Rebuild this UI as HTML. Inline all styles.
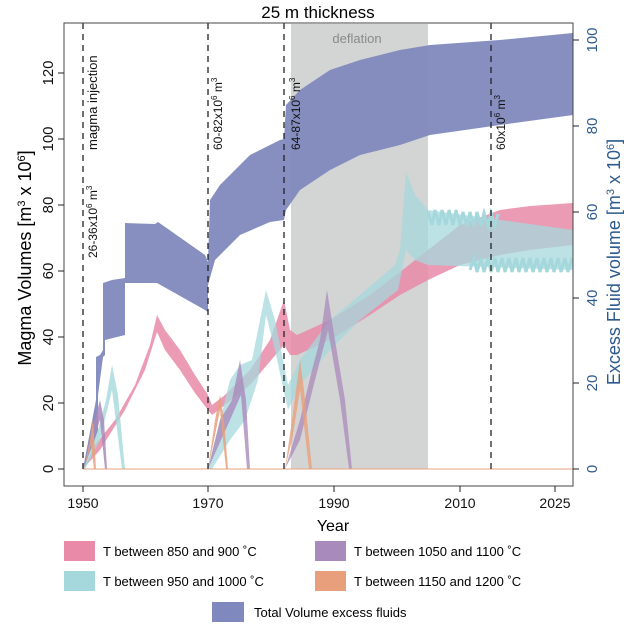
<!DOCTYPE html>
<html><head><meta charset="utf-8"><style>
body{margin:0;background:#fff;}
svg{display:block;font-family:"Liberation Sans",sans-serif;}
</style></head><body>
<svg width="638" height="629" viewBox="0 0 638 629" xmlns="http://www.w3.org/2000/svg">
<text x="318" y="18" font-size="17" text-anchor="middle">25 m thickness</text>
<rect x="291" y="24" width="137" height="445" fill="#d3d4d4"/>
<text x="357" y="43" font-size="13" fill="#8a8a8a" text-anchor="middle">deflation</text>
<polygon fill="#7f89bd" fill-opacity="0.95" points="83,469 96,400 96,357 100,355 103,350 103,283 112,280 125,278 125,223 155,224 158,222 205,255 208,262 210,200 220,185 250,155 280,140 284,139 286,105 300,90 330,70 360,60 400,50 430,45 500,40 573,33 573,115 500,125 430,135 400,145 360,155 330,170 300,190 286,210 284,220 270,222 240,235 215,260 208,285 208,312 205,310 157,283 125,283 125,335 105,340 105,355 103,357 98,395 98,430 95,440"/>
<polygon fill="#e98aa8" fill-opacity="0.85" points="83,469 95,445 115,420 135,385 150,345 157,315 165,330 180,350 195,375 208,395 212,405 225,395 250,370 270,340 284,300 290,330 297,335 330,320 370,295 400,272 428,250 460,225 500,210 530,206 573,203 573,245 530,250 500,255 460,265 428,280 400,295 370,315 330,340 297,355 290,355 284,345 250,385 225,405 212,415 208,410 195,393 180,370 165,350 157,332 145,370 125,410 100,450 83,469"/>
<polygon fill="#a5d8dc" fill-opacity="0.8" points="83,469 98,430 106,400 112,365 118,395 125,469 122,469 112,390 100,440 85,469"/>
<polygon fill="#a5d8dc" fill-opacity="0.75" points="208,469 230,380 240,365 252,360 266,290 275,320 288,385 300,360 330,320 360,295 395,265 400,250 406,172 415,195 428,210 573,230 573,270 428,265 415,260 406,250 398,290 360,320 330,350 300,385 288,410 275,350 266,315 258,380 245,420 230,440 212,469"/>
<polyline fill="none" stroke="#a5d8dc" stroke-width="3" points="428,212 432,225 435,210 439,225 442,210 446,225 449,210 453,225 456,210 460,225 463,212 467,226 470,212 474,226 477,212 481,226 484,213 488,226 491,213 495,226 498,214"/>
<polyline fill="none" stroke="#a5d8dc" stroke-width="3" points="470,270 474,258 477,272 481,258 484,272 488,258 491,272 495,258 498,272 502,258 505,272 509,258 512,272 516,258 519,272 523,258 526,272 530,258 533,272 537,258 540,272 544,258 547,272 551,258 554,272 558,258 561,272 565,258 568,272 572,258"/>
<polygon fill="#a98bbb" fill-opacity="0.85" points="84,469 92,430 100,400 104,420 107,469 105,469 100,420 90,450"/>
<polygon fill="#a98bbb" fill-opacity="0.8" points="208,469 220,420 232,400 240,360 246,400 250,469 247,469 241,395 230,420 212,460"/>
<polygon fill="#a98bbb" fill-opacity="0.75" points="285,469 300,420 312,370 320,340 327,290 335,340 345,400 352,469 349,469 340,400 328,330 315,380 300,440"/>
<polygon fill="#e8a07c" fill-opacity="0.85" points="84,469 90,440 93,418 96,469 94,469 91,445"/>
<polygon fill="#e8a07c" fill-opacity="0.85" points="208,469 215,420 220,395 224,420 228,469 226,469 220,410 212,450"/>
<polygon fill="#e8a07c" fill-opacity="0.8" points="285,469 292,420 300,360 304,390 312,469 309,469 300,390 292,440"/>
<line x1="83" y1="469" x2="573" y2="469" stroke="#e8a07c" stroke-width="1"/>
<g stroke="#222" stroke-width="1.3" stroke-dasharray="6,5">
<line x1="83" y1="23" x2="83" y2="469"/>
<line x1="208" y1="23" x2="208" y2="469"/>
<line x1="284" y1="23" x2="284" y2="469"/>
<line x1="491" y1="23" x2="491" y2="469"/>
</g>
<g font-size="12" fill="#111">
<text transform="translate(97,150) rotate(-90)" font-size="13">magma injection</text>
<text transform="translate(97,258) rotate(-90)">26-36x10<tspan font-size="8" dy="-5">6</tspan><tspan dy="5"> m</tspan><tspan font-size="8" dy="-5">3</tspan></text>
<text transform="translate(222,150) rotate(-90)">60-82x10<tspan font-size="8" dy="-5">6</tspan><tspan dy="5"> m</tspan><tspan font-size="8" dy="-5">3</tspan></text>
<text transform="translate(300,150) rotate(-90)">64-87x10<tspan font-size="8" dy="-5">6</tspan><tspan dy="5"> m</tspan><tspan font-size="8" dy="-5">3</tspan></text>
<text transform="translate(505,150) rotate(-90)">60x10<tspan font-size="8" dy="-5">6</tspan><tspan dy="5"> m</tspan><tspan font-size="8" dy="-5">3</tspan></text>
</g>
<rect x="64" y="23" width="509" height="463" fill="none" stroke="#444" stroke-width="1"/>
<g stroke="#222"><line x1="58" y1="469" x2="64" y2="469"/><line x1="58" y1="403" x2="64" y2="403"/><line x1="58" y1="337" x2="64" y2="337"/><line x1="58" y1="271" x2="64" y2="271"/><line x1="58" y1="205" x2="64" y2="205"/><line x1="58" y1="139" x2="64" y2="139"/><line x1="58" y1="73" x2="64" y2="73"/></g>
<g font-size="15" fill="#111" text-anchor="middle">
<text transform="translate(53,469) rotate(-90)">0</text>
<text transform="translate(53,403) rotate(-90)">20</text>
<text transform="translate(53,337) rotate(-90)">40</text>
<text transform="translate(53,271) rotate(-90)">60</text>
<text transform="translate(53,205) rotate(-90)">80</text>
<text transform="translate(53,139) rotate(-90)">100</text>
<text transform="translate(53,73) rotate(-90)">120</text>
</g>
<text transform="translate(31,258) rotate(-90)" font-size="18" text-anchor="middle">Magma Volumes  [m<tspan font-size="11" dy="-6">3</tspan><tspan dy="6"> x 10</tspan><tspan font-size="11" dy="-6">6</tspan><tspan dy="6">]</tspan></text>
<g stroke="#222"><line x1="573" y1="469" x2="579" y2="469"/><line x1="573" y1="383" x2="579" y2="383"/><line x1="573" y1="298" x2="579" y2="298"/><line x1="573" y1="212" x2="579" y2="212"/><line x1="573" y1="126" x2="579" y2="126"/><line x1="573" y1="40" x2="579" y2="40"/></g>
<g font-size="15" fill="#2d5a8c" text-anchor="middle">
<text transform="translate(597,469) rotate(-90)">0</text>
<text transform="translate(597,383) rotate(-90)">20</text>
<text transform="translate(597,298) rotate(-90)">40</text>
<text transform="translate(597,212) rotate(-90)">60</text>
<text transform="translate(597,126) rotate(-90)">80</text>
<text transform="translate(597,40) rotate(-90)">100</text>
</g>
<text transform="translate(620,262) rotate(-90)" font-size="18" fill="#2d5a8c" text-anchor="middle">Excess Fluid volume  [m<tspan font-size="11" dy="-6">3</tspan><tspan dy="6"> x 10</tspan><tspan font-size="11" dy="-6">6</tspan><tspan dy="6">]</tspan></text>
<g stroke="#222"><line x1="83" y1="486" x2="83" y2="492"/><line x1="208" y1="486" x2="208" y2="492"/><line x1="334" y1="486" x2="334" y2="492"/><line x1="460" y1="486" x2="460" y2="492"/><line x1="555" y1="486" x2="555" y2="492"/></g>
<g font-size="14" fill="#111" text-anchor="middle">
<text x="83" y="508">1950</text><text x="208" y="508">1970</text><text x="334" y="508">1990</text><text x="460" y="508">2010</text><text x="555" y="508">2025</text>
</g>
<text x="333" y="531" font-size="16" text-anchor="middle">Year</text>
<rect x="64" y="541" width="31" height="20" fill="#e98aa8"/>
<text x="103" y="556" font-size="13">T between 850 and 900 ˚C</text>
<rect x="64" y="571" width="31" height="20" fill="#a5d8dc"/>
<text x="103" y="586" font-size="13">T between 950 and 1000 ˚C</text>
<rect x="315" y="541" width="31" height="20" fill="#a98bbb"/>
<text x="354" y="556" font-size="13">T between 1050 and 1100 ˚C</text>
<rect x="315" y="571" width="31" height="20" fill="#e8a07c"/>
<text x="354" y="586" font-size="13">T between 1150 and 1200 ˚C</text>
<rect x="212" y="602" width="32" height="20" fill="#7f89bd"/>
<text x="254" y="617" font-size="13">Total Volume excess fluids</text>
</svg>
</body></html>
